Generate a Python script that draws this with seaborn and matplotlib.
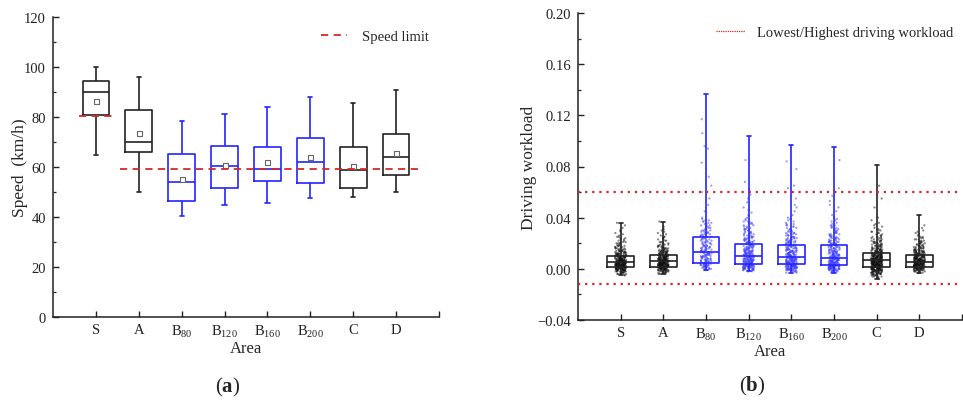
import numpy as np
import pandas as pd
import matplotlib
matplotlib.use("Agg")
import matplotlib.pyplot as plt
import seaborn as sns
from matplotlib.ticker import MultipleLocator
from matplotlib.lines import Line2D

# ---------------- data ----------------
areas = ["S", "A", "B80", "B120", "B160", "B200", "C", "D"]
area_labels = ["S", "A", r"B$_{80}$", r"B$_{120}$", r"B$_{160}$", r"B$_{200}$", "C", "D"]
area_group = ["other", "other", "B", "B", "B", "B", "other", "other"]

# (a) speed box statistics (km/h)
speed_low = [65.0, 50.0, 40.3, 45.0, 45.7, 47.5, 48.0, 50.0]
speed_q1 = [80.7, 66.0, 46.5, 51.7, 54.4, 53.7, 51.8, 56.9]
speed_med = [89.9, 70.1, 54.0, 60.5, 59.1, 62.2, 58.9, 63.9]
speed_q3 = [94.3, 82.9, 65.2, 68.4, 67.9, 71.8, 68.1, 73.2]
speed_high = [100.0, 96.2, 78.3, 81.2, 84.1, 88.1, 85.5, 90.8]
speed_mean = [86.4, 73.7, 55.3, 60.8, 62.0, 64.1, 60.5, 65.6]
speed_limit_S = 80.5
speed_limit_other = 59.3

# (b) driving workload box statistics
wl_low = [-0.005, -0.004, -0.001, -0.002, -0.003, -0.003, -0.008, -0.003]
wl_q1 = [0.0013, 0.0018, 0.0047, 0.0039, 0.0034, 0.0031, 0.0015, 0.0018]
wl_med = [0.0052, 0.0058, 0.0130, 0.0097, 0.0090, 0.0086, 0.0070, 0.0057]
wl_q3 = [0.0104, 0.0110, 0.0250, 0.0198, 0.0190, 0.0185, 0.0120, 0.0105]
wl_high = [0.036, 0.037, 0.137, 0.104, 0.097, 0.095, 0.081, 0.042]
wl_lowest = -0.012
wl_highest = 0.060

# (b) individual workload observations, binned (value levels in 1/1000, counts per level)
wl_levels_milli = [-8, -7, -6, -5, -4, -3, -2, -1, 0, 1, 2, 3, 4, 5, 6, 7, 8, 9, 10,
                   11, 12, 13, 14, 15, 16, 17, 18, 19, 20, 21, 22, 23, 24, 25, 26, 27,
                   28, 29, 30, 31, 32, 33, 34, 35, 36, 37, 38, 39, 40]
cnt_S = [0, 0, 0, 2, 4, 6, 9, 12, 16, 20, 22, 22, 22, 20, 18, 16, 14, 12, 11, 9, 8, 7, 6, 5,
         5, 4, 4, 3, 3, 3, 2, 2, 2, 2, 1, 1, 1, 1, 1, 0, 1, 0, 1, 0, 1, 0, 0, 0, 0]
cnt_A = [0, 0, 0, 0, 3, 5, 8, 11, 14, 18, 20, 21, 21, 20, 19, 17, 15, 13, 12, 10, 9, 8, 7, 6,
         5, 5, 4, 4, 3, 3, 2, 2, 2, 2, 1, 1, 1, 1, 1, 1, 0, 1, 0, 0, 0, 1, 0, 0, 0]
cnt_B80 = [0, 0, 0, 0, 0, 0, 0, 2, 4, 5, 5, 6, 6, 6, 6, 6, 6, 6, 6, 6, 6, 6, 5, 5,
           5, 5, 5, 4, 4, 4, 4, 4, 4, 3, 3, 3, 3, 3, 3, 2, 2, 2, 2, 2, 2, 2, 2, 1, 1]
cnt_B120 = [0, 0, 0, 0, 0, 0, 3, 6, 10, 12, 13, 13, 13, 12, 12, 11, 11, 10, 10, 9, 9, 8, 8, 7,
            7, 6, 6, 6, 5, 5, 5, 4, 4, 4, 4, 3, 3, 3, 3, 3, 2, 2, 2, 2, 2, 2, 1, 1, 1]
cnt_B160 = [0, 0, 0, 0, 0, 2, 5, 8, 11, 12, 13, 13, 13, 12, 12, 11, 11, 10, 10, 9, 9, 8, 8, 7,
            7, 6, 6, 6, 5, 5, 5, 4, 4, 4, 3, 3, 3, 3, 2, 2, 2, 2, 2, 2, 1, 1, 1, 1, 1]
cnt_B200 = [0, 0, 0, 0, 0, 2, 5, 9, 12, 13, 14, 13, 13, 12, 12, 11, 10, 10, 9, 9, 8, 8, 7, 7,
            6, 6, 6, 5, 5, 5, 4, 4, 4, 3, 3, 3, 3, 2, 2, 2, 2, 2, 2, 1, 1, 1, 1, 1, 1]
cnt_C = [1, 2, 4, 6, 8, 10, 12, 14, 17, 19, 20, 21, 21, 21, 20, 19, 18, 16, 15, 13, 12, 10, 9, 8,
         7, 6, 6, 5, 5, 4, 4, 3, 3, 3, 2, 2, 2, 2, 2, 1, 1, 1, 1, 1, 1, 0, 1, 0, 1]
cnt_D = [0, 0, 0, 0, 0, 3, 6, 9, 13, 16, 18, 19, 19, 19, 18, 16, 15, 13, 12, 10, 9, 8, 7, 6,
         5, 5, 4, 4, 3, 3, 3, 2, 2, 2, 1, 1, 1, 1, 1, 0, 1, 0, 1, 0, 0, 0, 0, 0, 0]
tail_S = []
tail_A = []
tail_B80 = [0.045, 0.050, 0.055, 0.060, 0.065, 0.072, 0.083, 0.094, 0.096, 0.106, 0.117]
tail_B120 = [0.042, 0.044, 0.046, 0.048, 0.052, 0.055, 0.058, 0.062, 0.068, 0.085]
tail_B160 = [0.042, 0.045, 0.048, 0.050, 0.055, 0.060, 0.063, 0.065, 0.078, 0.084]
tail_B200 = [0.042, 0.045, 0.048, 0.050, 0.053, 0.057, 0.060, 0.063, 0.085]
tail_C = [0.048, 0.055, 0.065]
tail_D = []

wl_counts = [cnt_S, cnt_A, cnt_B80, cnt_B120, cnt_B160, cnt_B200, cnt_C, cnt_D]
wl_tails = [tail_S, tail_A, tail_B80, tail_B120, tail_B160, tail_B200, tail_C, tail_D]

# ---------------- tables ----------------
def five_number_frame(lows, q1s, meds, q3s, highs):
    rows = []
    for a, lo, q1, md, q3, hi in zip(areas, lows, q1s, meds, q3s, highs):
        for v in (lo, q1, md, q3, hi):
            rows.append({"Area": a, "value": v})
    return pd.DataFrame(rows)

speed_df = five_number_frame(speed_low, speed_q1, speed_med, speed_q3, speed_high)
wl_df = five_number_frame(wl_low, wl_q1, wl_med, wl_q3, wl_high)
mean_df = pd.DataFrame({"Area": areas, "mean": speed_mean})

lv = np.array(wl_levels_milli) / 1000.0
pts_rows = []
for a, c, t in zip(areas, wl_counts, wl_tails):
    vals = list(np.repeat(lv, c)) + list(t)
    for v in vals:
        pts_rows.append({"Area": a, "value": v})
pts_df = pd.DataFrame(pts_rows)

BLACK = "#222222"
BLUE = "#2424ff"
palette = {a: (BLUE if g == "B" else BLACK) for a, g in zip(areas, area_group)}
pt_palette = {a: ("#3a3aff" if g == "B" else "#111111") for a, g in zip(areas, area_group)}

# ---------------- style ----------------
sns.set_theme(style="ticks")
plt.rcParams["font.family"] = ["Liberation Serif", "DejaVu Serif"]
plt.rcParams["mathtext.fontset"] = "custom"
plt.rcParams["mathtext.rm"] = "Liberation Serif"
plt.rcParams["mathtext.bf"] = "Liberation Serif:bold"
plt.rcParams["mathtext.default"] = "regular"
plt.rcParams["axes.linewidth"] = 1.1
plt.rcParams["axes.edgecolor"] = "#222222"

fig = plt.figure(figsize=(9.63, 4.02), dpi=100)
ax1 = fig.add_axes([53 / 963, 1 - 318 / 402, 386 / 963, 300 / 402])
ax2 = fig.add_axes([578 / 963, 1 - 321 / 402, 384 / 963, 307 / 402])

box_kw = dict(x="Area", y="value", hue="Area", order=areas, hue_order=areas,
              palette=palette, fill=False, whis=(0, 100), width=0.62,
              linewidth=1.2, legend=False, capwidths=0.1)

# ---- (a) ----
sns.boxplot(data=speed_df, ax=ax1, **box_kw)
sns.stripplot(data=mean_df, x="Area", y="mean", order=areas, ax=ax1, jitter=False,
              marker="s", size=3.6, color="white", edgecolor="#666666", linewidth=0.8,
              zorder=5)
ax1.hlines(speed_limit_S, -0.4, 0.4, colors="#d62728", linestyles=(0, (4, 3)), lw=1.3, zorder=6)
ax1.hlines(speed_limit_other, 0.57, 7.6, colors="#d62728", linestyles=(0, (4, 3)), lw=1.3, zorder=6)
h1 = Line2D([], [], color="#d62728", ls=(0, (4, 3)), lw=1.3)
ax1.legend([h1], ["Speed limit"], frameon=False, loc="upper left",
           bbox_to_anchor=(0.66, 1.0), fontsize=10.5, handlelength=1.8, handletextpad=1.0)
ax1.set_ylim(0, 120)
ax1.yaxis.set_major_locator(MultipleLocator(20))
ax1.yaxis.set_minor_locator(MultipleLocator(10))
ax1.set_ylabel("Speed  (km/h)", fontsize=12.5, labelpad=-3)

# ---- (b) ----
sns.stripplot(data=pts_df, x="Area", y="value", hue="Area", order=areas, hue_order=areas,
              palette=pt_palette, ax=ax2, jitter=0.13, size=1.6, alpha=0.5,
              linewidth=0, legend=False, zorder=1)
sns.boxplot(data=wl_df, ax=ax2, **box_kw)
ax2.axhline(wl_highest, color="#d62728", ls=(0, (1, 2.2)), lw=1.6, zorder=6)
ax2.axhline(wl_lowest, color="#d62728", ls=(0, (1, 2.2)), lw=1.6, zorder=6)
h2 = Line2D([], [], color="#d62728", ls=(0, (1, 0.8)), lw=0.9)
ax2.legend([h2], ["Lowest/Highest driving workload"], frameon=False, loc="upper left",
           bbox_to_anchor=(0.326, 1.0), fontsize=10.5, handlelength=2.0, handletextpad=0.8)
ax2.set_ylim(-0.04, 0.20)
ax2.yaxis.set_major_locator(MultipleLocator(0.04))
ax2.yaxis.set_minor_locator(MultipleLocator(0.02))
ax2.yaxis.set_major_formatter(matplotlib.ticker.FuncFormatter(
    lambda v, p: ("\u2212%.2f" % abs(v)) if v < -1e-9 else "%.2f" % abs(v)))
ax2.set_ylabel("Driving workload", fontsize=12.5, labelpad=0)

for ax in (ax1, ax2):
    ax.set_xlim(-1, 8)
    ax.set_xticks(list(range(9)), area_labels + [""])
    ax.set_xlabel("Area", fontsize=12, labelpad=1)
    ax.tick_params(axis="both", which="major", direction="in", length=4, width=1.0,
                   labelsize=10.5, colors="#222222", pad=5)
    ax.tick_params(axis="y", which="minor", direction="in", length=2.5, width=0.9)
    ax.tick_params(axis="x", which="major", pad=4)
    sns.despine(ax=ax)

fig.text(228 / 963, 1 - 387 / 402, r"($\mathbf{a}$)", ha="center", va="center", fontsize=15)
fig.text(752 / 963, 1 - 386 / 402, r"($\mathbf{b}$)", ha="center", va="center", fontsize=15)

fig.savefig("out.png", dpi=100)
